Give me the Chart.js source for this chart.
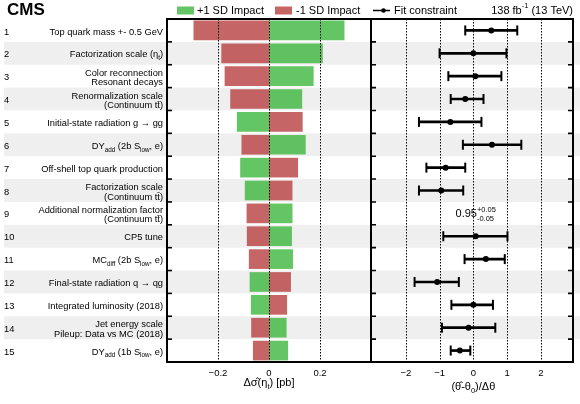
<!DOCTYPE html>
<html>
<head>
<meta charset="utf-8">
<script src="https://cdn.jsdelivr.net/npm/chart.js@4"></script>
<style>
  body { margin: 0; background: #fff; }
  #wrap { position: relative; width: 580px; height: 404px; }
  #left { position: absolute; left: 0; top: 0; width: 373px; height: 404px; }
  #right { position: absolute; left: 369px; top: 0; width: 211px; height: 404px; }
</style>
</head>
<body>
<div id="wrap">
  <div id="left"><canvas id="impacts"></canvas></div>
  <div id="right"><canvas id="pulls"></canvas></div>
</div>
<script>
// rows, top to bottom
const rows = ['1', '2', '3', '4', '5', '6', '7', '8', '9', '10', '11', '12', '13', '14', '15'];
const rowLabels = [
  ['Top quark mass +- 0.5 GeV'],
  ['Factorization scale (η_{t})'],
  ['Color reconnection', 'Resonant decays'],
  ['Renormalization scale', '(Continuum tt\u0304)'],
  ['Initial-state radiation g → gg'],
  ['DY_{add} (2b S_{low}, e)'],
  ['Off-shell top quark production'],
  ['Factorization scale', '(Continuum tt\u0304)'],
  ['Additional normalization factor', '(Continuum tt\u0304)'],
  ['CP5 tune'],
  ['MC_{diff} (2b S_{low}, e)'],
  ['Final-state radiation q → qg'],
  ['Integrated luminosity (2018)'],
  ['Jet energy scale', 'Pileup: Data vs MC (2018)'],
  ['DY_{add} (1b S_{low}, e)']
];

// impacts in pb
const plusImpact = [0.296, 0.211, 0.175, 0.130, -0.126, 0.144, -0.113, -0.095, 0.092, 0.090, 0.094, -0.076, -0.071, 0.069, 0.075];
const minusImpact = [-0.296, -0.187, -0.174, -0.152, 0.132, -0.108, 0.114, 0.092, -0.088, -0.087, -0.079, 0.086, 0.071, -0.070, -0.063];

// pulls (row 9 is a free parameter, shown as text)
const fitCentre = [0.53, 0.00, 0.06, -0.24, -0.68, 0.55, -0.82, -0.95, null, 0.07, 0.37, -1.07, 0.00, -0.14, -0.40];
const fitLow = [-0.24, -1.00, -0.74, -0.67, -1.61, -0.31, -1.39, -1.61, null, -0.89, -0.26, -1.74, -0.65, -0.93, -0.67];
const fitHigh = [1.30, 0.98, 0.83, 0.30, 0.24, 1.42, -0.24, -0.30, null, 1.01, 0.93, -0.43, 0.58, 0.65, -0.09];
const fitText = '0.95^{+0.05}_{-0.05}';

const impactTicks = [-0.2, 0, 0.2];
const pullTicks = [-2, -1, 0, 1, 2];

const FONT = '"Liberation Sans", Arial, Helvetica, sans-serif';
const GREEN = 'rgba(48,178,48,0.75)';
const RED = 'rgba(182,58,58,0.78)';

function f(size, bold) {
  return (bold ? 'bold ' : '') + size + 'px ' + FONT;
}

function fmt(v) {
  return v < 0 ? '\u2212' + Math.abs(v) : String(v);
}

// text with _{sub} and ^{sup}
function drawRich(ctx, str, x, y, size, align) {
  const segs = [];
  const re = /([_^])\{([^}]*)\}/g;
  let last = 0, m;
  while ((m = re.exec(str)) !== null) {
    if (m.index > last) segs.push({ t: str.slice(last, m.index), k: '' });
    segs.push({ t: m[2], k: m[1] });
    last = re.lastIndex;
  }
  if (last < str.length) segs.push({ t: str.slice(last), k: '' });
  let w = 0;
  segs.forEach((s, i) => {
    ctx.font = f(s.k ? size * 0.68 : size);
    s.w = ctx.measureText(s.t).width;
    const prev = segs[i - 1];
    if (s.k && prev && prev.k && prev.k !== s.k) {
      s.x = prev.x;
      w = prev.x + Math.max(prev.w, s.w);
    } else {
      s.x = w;
      w += s.w;
    }
  });
  const x0 = align === 'right' ? x - w : align === 'center' ? x - w / 2 : x;
  ctx.textBaseline = 'middle';
  ctx.textAlign = 'left';
  segs.forEach(s => {
    ctx.font = f(s.k ? size * 0.68 : size);
    const dy = s.k === '_' ? size * 0.38 : s.k === '^' ? -size * 0.4 : 0;
    ctx.fillText(s.t, x0 + s.x, y + dy);
  });
}

function rowHalf(chart) {
  const y = chart.scales.y;
  return (y.getPixelForValue(1) - y.getPixelForValue(0)) / 2;
}

function drawBands(chart, x0, x1) {
  const ctx = chart.ctx, y = chart.scales.y, h = rowHalf(chart);
  ctx.save();
  ctx.fillStyle = '#efefef';
  rows.forEach((r, i) => {
    if (i % 2 === 1) ctx.fillRect(x0, y.getPixelForValue(i) - h, x1 - x0, 2 * h);
  });
  ctx.restore();
}

function drawGrid(chart, ticks) {
  const ctx = chart.ctx, a = chart.chartArea, x = chart.scales.x;
  ctx.save();
  ctx.strokeStyle = '#000';
  ctx.lineWidth = 1;
  ctx.setLineDash([1.5, 1.5]);
  ticks.forEach(v => {
    const px = Math.round(x.getPixelForValue(v)) + 0.5;
    ctx.beginPath();
    ctx.moveTo(px, a.top);
    ctx.lineTo(px, a.bottom);
    ctx.stroke();
  });
  ctx.restore();
}

function drawFrame(chart, leftTicks, rightTicks) {
  const ctx = chart.ctx, a = chart.chartArea, y = chart.scales.y, h = rowHalf(chart);
  ctx.save();
  ctx.strokeStyle = '#000';
  ctx.lineWidth = 1.6;
  rows.forEach((r, i) => {
    if (i === 0) return;
    const py = y.getPixelForValue(i) - h;
    ctx.beginPath();
    if (leftTicks) { ctx.moveTo(a.left, py); ctx.lineTo(a.left + 5, py); }
    if (rightTicks) { ctx.moveTo(a.right, py); ctx.lineTo(a.right - 5, py); }
    ctx.stroke();
  });
  ctx.lineWidth = 2;
  ctx.strokeRect(a.left, a.top, a.right - a.left, a.bottom - a.top);
  ctx.restore();
}

const impactDeco = {
  id: 'impactDeco',
  beforeDraw(chart) {
    drawBands(chart, 4, chart.chartArea.right);
  },
  afterDatasetsDraw(chart) {
    drawGrid(chart, impactTicks);
  },
  afterDraw(chart) {
    const ctx = chart.ctx, y = chart.scales.y;
    drawFrame(chart, true, false);
    ctx.save();
    ctx.fillStyle = '#000';
    rows.forEach((r, i) => {
      const cy = y.getPixelForValue(i);
      ctx.font = f(9.3);
      ctx.textAlign = 'left';
      ctx.textBaseline = 'middle';
      ctx.fillText(r, 4, cy + 1.5);
      const lines = rowLabels[i];
      if (lines.length === 1) {
        drawRich(ctx, lines[0], 163, cy + 1.5, 9.3, 'right');
      } else {
        drawRich(ctx, lines[0], 163, cy - 3, 9.3, 'right');
        drawRich(ctx, lines[1], 163, cy + 6.5, 9.3, 'right');
      }
    });
    // header
    ctx.font = f(17, true);
    ctx.textAlign = 'left';
    ctx.textBaseline = 'alphabetic';
    ctx.fillText('CMS', 7, 15);
    ctx.fillStyle = GREEN;
    ctx.fillRect(177, 6.5, 17, 8);
    ctx.fillStyle = RED;
    ctx.fillRect(275, 6.5, 17, 8);
    ctx.fillStyle = '#000';
    ctx.font = f(11);
    ctx.textBaseline = 'middle';
    ctx.fillText('+1 SD Impact', 197, 10.5);
    ctx.fillText('-1 SD Impact', 296, 10.5);
    // axis title
    drawRich(ctx, 'Δσ\u0302(η_{t}) [pb]', chart.scales.x.getPixelForValue(0), 383, 11, 'center');
    ctx.restore();
  }
};

const pullDeco = {
  id: 'pullDeco',
  beforeDraw(chart) {
    drawBands(chart, chart.chartArea.left, chart.width);
  },
  beforeDatasetsDraw(chart) {
    drawGrid(chart, pullTicks);
  },
  afterDraw(chart) {
    const ctx = chart.ctx, x = chart.scales.x, y = chart.scales.y;
    drawFrame(chart, true, true);
    ctx.save();
    ctx.fillStyle = '#000';
    // free parameter value
    drawRich(ctx, fitText, x.getPixelForValue(0.07), y.getPixelForValue(8) + 1, 11, 'center');
    // legend entry and lumi
    ctx.strokeStyle = '#000';
    ctx.lineWidth = 1.5;
    ctx.beginPath();
    ctx.moveTo(4, 10.5);
    ctx.lineTo(21, 10.5);
    ctx.stroke();
    ctx.beginPath();
    ctx.arc(14.5, 10.5, 2.3, 0, Math.PI * 2);
    ctx.fill();
    ctx.font = f(11);
    ctx.textAlign = 'left';
    ctx.textBaseline = 'middle';
    ctx.fillText('Fit constraint', 25, 10.5);
    drawRich(ctx, '138 fb^{-1} (13 TeV)', chart.chartArea.right, 10.5, 11, 'right');
    drawRich(ctx, '(θ\u0302-θ_{0})/Δθ', x.getPixelForValue(0), 387, 11, 'center');
    ctx.restore();
  }
};

function xAxis(min, max, tickVals) {
  return {
    type: 'linear',
    position: 'bottom',
    min: min,
    max: max,
    grid: { display: false, drawTicks: false },
    border: { display: false },
    afterBuildTicks: s => { s.ticks = tickVals.map(v => ({ value: v })); },
    afterFit: s => { s.height = 42; },
    ticks: {
      color: '#000',
      font: { family: FONT, size: 9.5 },
      padding: 6,
      autoSkip: false,
      maxRotation: 0,
      callback: v => fmt(v)
    }
  };
}

const yAxis = { type: 'category', display: false, offset: true };

new Chart(document.getElementById('impacts'), {
  type: 'bar',
  data: {
    labels: rows,
    datasets: [
      { label: '+1 SD Impact', data: plusImpact, backgroundColor: GREEN, grouped: false,
        barPercentage: 0.86, categoryPercentage: 1 },
      { label: '-1 SD Impact', data: minusImpact, backgroundColor: RED, grouped: false,
        barPercentage: 0.86, categoryPercentage: 1 }
    ]
  },
  options: {
    indexAxis: 'y',
    responsive: true,
    maintainAspectRatio: false,
    animation: false,
    layout: { autoPadding: false, padding: { left: 167, right: 2, top: 19, bottom: 0 } },
    plugins: { legend: { display: false }, tooltip: { enabled: false } },
    scales: { x: xAxis(-0.4, 0.4, impactTicks), y: yAxis }
  },
  plugins: [impactDeco]
});

new Chart(document.getElementById('pulls'), {
  type: 'bar',
  data: {
    labels: rows,
    datasets: [
      { type: 'line', data: fitCentre, showLine: false, pointStyle: 'circle', pointRadius: 3,
        backgroundColor: '#000', borderColor: '#000', borderWidth: 0 },
      { type: 'line', data: fitLow, showLine: false, pointStyle: 'line', pointRotation: 90,
        pointRadius: 5, borderColor: '#000', borderWidth: 2 },
      { type: 'line', data: fitHigh, showLine: false, pointStyle: 'line', pointRotation: 90,
        pointRadius: 5, borderColor: '#000', borderWidth: 2 },
      { label: 'Fit constraint',
        data: fitLow.map((l, i) => (l === null ? null : [l, fitHigh[i]])),
        backgroundColor: '#000', barThickness: 2, grouped: false }
    ]
  },
  options: {
    indexAxis: 'y',
    responsive: true,
    maintainAspectRatio: false,
    animation: false,
    layout: { autoPadding: false, padding: { left: 2, right: 7, top: 19, bottom: 0 } },
    plugins: { legend: { display: false }, tooltip: { enabled: false } },
    scales: { x: xAxis(-3.03, 2.95, pullTicks), y: yAxis }
  },
  plugins: [pullDeco]
});
</script>
</body>
</html>
